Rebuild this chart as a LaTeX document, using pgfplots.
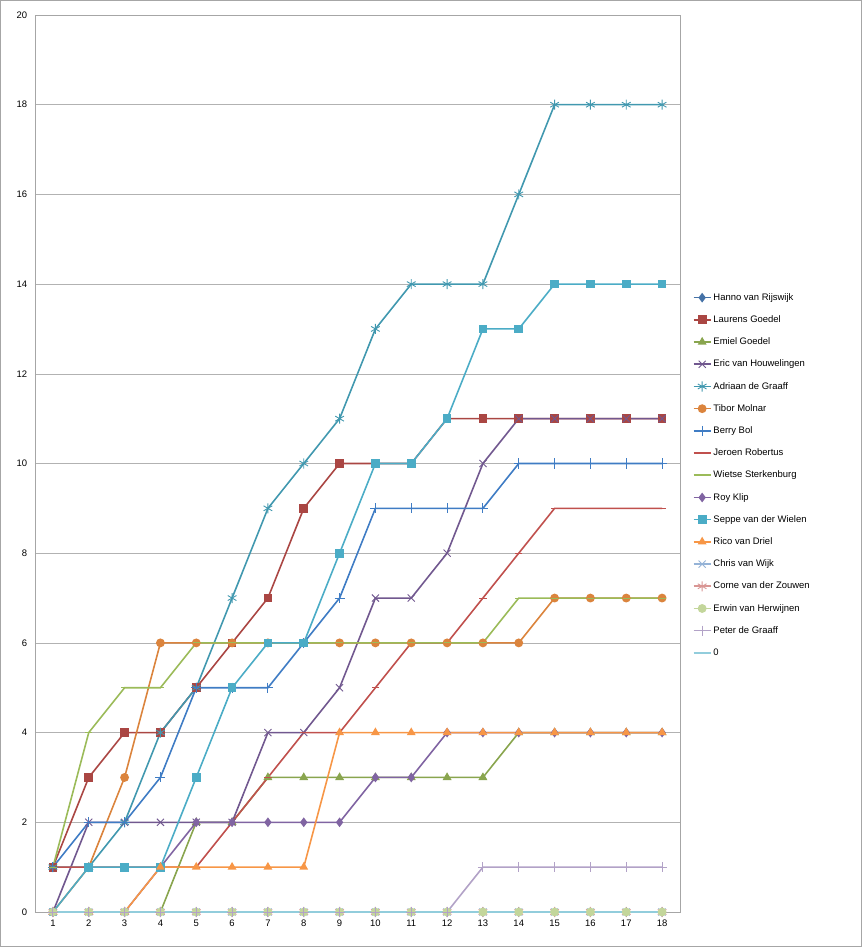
\documentclass[border=0pt]{standalone}
\usepackage{pgfplots}
\pgfplotsset{compat=1.18}
\usepackage{fontspec}
\setmainfont{Liberation Sans}
\definecolor{c1}{HTML}{4572A7}\definecolor{c2}{HTML}{AA4643}\definecolor{c3}{HTML}{89A54E}
\definecolor{c4}{HTML}{71588F}\definecolor{c5}{HTML}{4198AF}\definecolor{c6}{HTML}{DB843D}
\definecolor{c7}{HTML}{3F7CC4}\definecolor{c8}{HTML}{C0504D}\definecolor{c9}{HTML}{9BBB59}
\definecolor{c10}{HTML}{8064A2}\definecolor{c11}{HTML}{4BACC6}\definecolor{c12}{HTML}{F79646}
\definecolor{c13}{HTML}{95B3D7}\definecolor{c14}{HTML}{D99694}\definecolor{c15}{HTML}{C3D69B}
\definecolor{c16}{HTML}{B2A2C7}\definecolor{c17}{HTML}{92CDDC}
\begin{document}
\begin{tikzpicture}
\useasboundingbox (-35bp,-35bp) rectangle (827bp,912bp);
\draw[gray!70] (-34.5bp,-34.5bp) rectangle (826.5bp,911.5bp);
\begin{axis}[at={(0,0)},anchor=south west,scale only axis,width=645bp,height=897bp,
 xmin=0.5,xmax=18.5,ymin=0,ymax=20,xtick={1,...,18},ytick={0,2,...,20},
 ymajorgrids,major grid style={gray!60},axis line style={gray!70},
 tick style={gray!70},xtick pos=bottom,ytick pos=left,tick align=outside,
 ytick style={draw=none},
 ticklabel style={font=\fontsize{9.5}{11}\selectfont},
 /pgf/number format/assume math mode=true,
 every axis plot/.append style={line width=1.6pt,mark size=3.6pt},
 legend style={at={(1.015,0.487)},anchor=west,draw=none,font=\fontsize{9.5}{11}\selectfont,row sep=9.9pt},
 legend cell align=left]
\addplot[c1,mark=diamond*] coordinates {(1,0)(2,0)(3,0)(4,0)(5,0)(6,0)(7,0)(8,0)(9,0)(10,0)(11,0)(12,0)(13,0)(14,0)(15,0)(16,0)(17,0)(18,0)};
\addlegendentry{Hanno van Rijswijk}
\addplot[c2,mark=square*] coordinates {(1,1)(2,3)(3,4)(4,4)(5,5)(6,6)(7,7)(8,9)(9,10)(10,10)(11,10)(12,11)(13,11)(14,11)(15,11)(16,11)(17,11)(18,11)};
\addlegendentry{Laurens Goedel}
\addplot[c3,mark=triangle*] coordinates {(1,0)(2,0)(3,0)(4,0)(5,2)(6,2)(7,3)(8,3)(9,3)(10,3)(11,3)(12,3)(13,3)(14,4)(15,4)(16,4)(17,4)(18,4)};
\addlegendentry{Emiel Goedel}
\addplot[c4,mark=x,mark options={line width=0.9pt,scale=1.4}] coordinates {(1,0)(2,2)(3,2)(4,2)(5,2)(6,2)(7,4)(8,4)(9,5)(10,7)(11,7)(12,8)(13,10)(14,11)(15,11)(16,11)(17,11)(18,11)};
\addlegendentry{Eric van Houwelingen}
\addplot[c5,mark=asterisk,mark options={line width=0.9pt,scale=1.4}] coordinates {(1,1)(2,1)(3,2)(4,4)(5,5)(6,7)(7,9)(8,10)(9,11)(10,13)(11,14)(12,14)(13,14)(14,16)(15,18)(16,18)(17,18)(18,18)};
\addlegendentry{Adriaan de Graaff}
\addplot[c6,mark=*] coordinates {(1,0)(2,1)(3,3)(4,6)(5,6)(6,6)(7,6)(8,6)(9,6)(10,6)(11,6)(12,6)(13,6)(14,6)(15,7)(16,7)(17,7)(18,7)};
\addlegendentry{Tibor Molnar}
\addplot[c7,mark=+,mark options={line width=0.9pt,scale=1.4}] coordinates {(1,1)(2,2)(3,2)(4,3)(5,5)(6,5)(7,5)(8,6)(9,7)(10,9)(11,9)(12,9)(13,9)(14,10)(15,10)(16,10)(17,10)(18,10)};
\addlegendentry{Berry Bol}
\addplot[c8,mark=-,mark options={line width=0.9pt}] coordinates {(1,1)(2,1)(3,1)(4,1)(5,1)(6,2)(7,3)(8,4)(9,4)(10,5)(11,6)(12,6)(13,7)(14,8)(15,9)(16,9)(17,9)(18,9)};
\addlegendentry{Jeroen Robertus}
\addplot[c9,mark=-,mark options={line width=0.9pt}] coordinates {(1,1)(2,4)(3,5)(4,5)(5,6)(6,6)(7,6)(8,6)(9,6)(10,6)(11,6)(12,6)(13,6)(14,7)(15,7)(16,7)(17,7)(18,7)};
\addlegendentry{Wietse Sterkenburg}
\addplot[c10,mark=diamond*] coordinates {(1,0)(2,0)(3,0)(4,1)(5,2)(6,2)(7,2)(8,2)(9,2)(10,3)(11,3)(12,4)(13,4)(14,4)(15,4)(16,4)(17,4)(18,4)};
\addlegendentry{Roy Klip}
\addplot[c11,mark=square*] coordinates {(1,0)(2,1)(3,1)(4,1)(5,3)(6,5)(7,6)(8,6)(9,8)(10,10)(11,10)(12,11)(13,13)(14,13)(15,14)(16,14)(17,14)(18,14)};
\addlegendentry{Seppe van der Wielen}
\addplot[c12,mark=triangle*] coordinates {(1,0)(2,0)(3,0)(4,1)(5,1)(6,1)(7,1)(8,1)(9,4)(10,4)(11,4)(12,4)(13,4)(14,4)(15,4)(16,4)(17,4)(18,4)};
\addlegendentry{Rico van Driel}
\addplot[c13,mark=x,mark options={line width=0.9pt,scale=1.4}] coordinates {(1,0)(2,0)(3,0)(4,0)(5,0)(6,0)(7,0)(8,0)(9,0)(10,0)(11,0)(12,0)(13,0)(14,0)(15,0)(16,0)(17,0)(18,0)};
\addlegendentry{Chris van Wijk}
\addplot[c14,mark=asterisk,mark options={line width=0.9pt,scale=1.4}] coordinates {(1,0)(2,0)(3,0)(4,0)(5,0)(6,0)(7,0)(8,0)(9,0)(10,0)(11,0)(12,0)(13,0)(14,0)(15,0)(16,0)(17,0)(18,0)};
\addlegendentry{Corne van der Zouwen}
\addplot[c15,mark=*] coordinates {(1,0)(2,0)(3,0)(4,0)(5,0)(6,0)(7,0)(8,0)(9,0)(10,0)(11,0)(12,0)(13,0)(14,0)(15,0)(16,0)(17,0)(18,0)};
\addlegendentry{Erwin van Herwijnen}
\addplot[c16,mark=+,mark options={line width=0.9pt,scale=1.4}] coordinates {(1,0)(2,0)(3,0)(4,0)(5,0)(6,0)(7,0)(8,0)(9,0)(10,0)(11,0)(12,0)(13,1)(14,1)(15,1)(16,1)(17,1)(18,1)};
\addlegendentry{Peter de Graaff}
\addplot[c17,no marks] coordinates {(1,0)(2,0)(3,0)(4,0)(5,0)(6,0)(7,0)(8,0)(9,0)(10,0)(11,0)(12,0)(13,0)(14,0)(15,0)(16,0)(17,0)(18,0)};
\addlegendentry{0}
\end{axis}
\end{tikzpicture}
\end{document}
